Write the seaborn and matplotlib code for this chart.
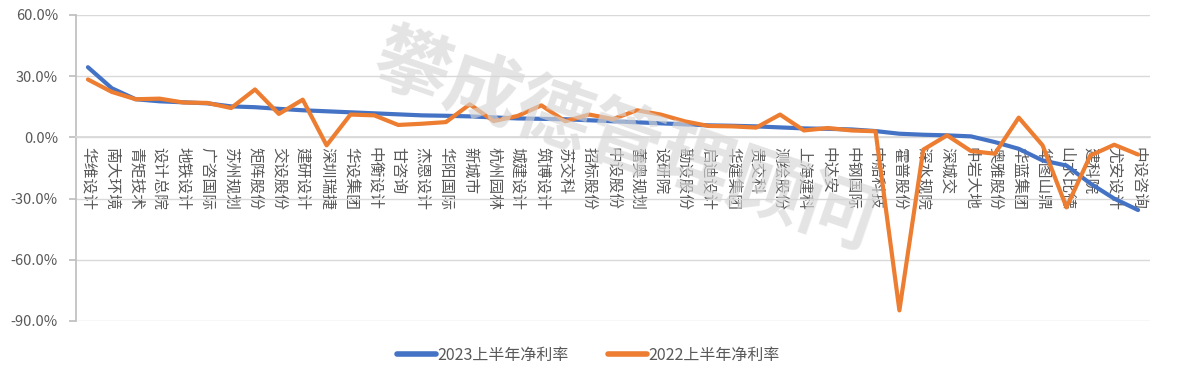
import matplotlib
matplotlib.use("Agg")
import matplotlib.pyplot as plt
import seaborn as sns
import pandas as pd
import numpy as np
from matplotlib.ticker import FuncFormatter, FixedLocator
from matplotlib.lines import Line2D

companies = ["华维设计", "南大环境", "青矩技术", "设计总院", "地铁设计", "广咨国际", "苏州规划",
             "矩阵股份", "交设股份", "建研设计", "深圳瑞捷", "华设集团", "中衡设计", "甘咨询",
             "杰恩设计", "华阳国际", "新城市", "杭州园林", "城建设计", "筑博设计", "苏交科",
             "招标股份", "中设股份", "蕾奥规划", "设研院", "勘设股份", "启迪设计", "华建集团",
             "贵交科", "测绘股份", "上海建科", "中达安", "中钢国际", "中船科技", "霍普股份",
             "深水规院", "深城交", "中岩大地", "奥雅股份", "华蓝集团", "华图山鼎", "山水比德",
             "建科院", "尤安设计", "中设咨询"]

margin_2023 = [34.4, 24.1, 18.7, 17.7, 17.2, 16.7, 15.2, 14.8, 14.0, 13.3, 12.8, 12.3,
               11.8, 11.3, 10.8, 10.6, 10.3, 9.8, 9.3, 9.1, 8.9, 8.4, 7.9, 7.4, 6.9,
               6.4, 5.9, 5.7, 5.4, 4.9, 4.4, 4.2, 3.9, 3.1, 1.8, 1.3, 1.0, 0.5, -2.3,
               -5.6, -11.3, -13.8, -22.6, -30.0, -35.6]

margin_2022 = [28.4, 22.3, 18.7, 19.0, 17.1, 16.9, 14.4, 23.5, 11.5, 18.5, -3.9, 11.2,
               10.8, 6.1, 6.7, 7.5, 16.2, 8.0, 10.5, 15.7, 7.9, 11.2, 9.0, 13.3, 11.2,
               7.9, 5.6, 5.4, 4.8, 11.2, 3.4, 4.6, 3.4, 3.0, -84.8, -6.0, 1.0, -6.7,
               -8.0, 9.7, -3.9, -34.3, -8.9, -3.6, -8.4]

series_names = ["2023上半年净利率", "2022上半年净利率"]
y_ticks = [60, 30, 0, -30, -60, -90]

sns.set_theme(style="white")
plt.rcParams['font.family'] = ['Noto Sans CJK SC', 'DejaVu Sans']

idx = np.arange(len(companies))
df = pd.DataFrame({
    "idx": np.concatenate([idx, idx]),
    "value": margin_2023 + margin_2022,
    "series": [series_names[0]] * len(companies) + [series_names[1]] * len(companies),
})

fig = plt.figure(figsize=(11.77, 3.76), dpi=100)
ax = fig.add_axes([76 / 1177, 1 - 321 / 376, (1150 - 76) / 1177, (321 - 15) / 376])

# watermark
fig.text(0.53, 0.62, "攀成德管理顾问", fontsize=54, fontweight='bold', color='#d6d6d6',
         alpha=0.65, rotation=-19, ha='center', va='center', zorder=0)

sns.lineplot(data=df, x="idx", y="value", hue="series",
             palette={series_names[0]: "#4472C4", series_names[1]: "#ED7D31"},
             linewidth=3, ax=ax, legend=False, zorder=3)

ax.spines['bottom'].set_position(('data', 0))
ax.spines['bottom'].set_color('#d9d9d9')
ax.spines['top'].set_visible(False)
ax.spines['right'].set_visible(False)
ax.spines['left'].set_color('#bfbfbf')

ax.set_xlim(-0.5, len(companies) - 0.5)
ax.set_ylim(-90, 60)
ax.yaxis.set_major_locator(FixedLocator(y_ticks))
ax.yaxis.set_major_formatter(FuncFormatter(lambda v, p: f"{v:.1f}%"))
ax.grid(axis='y', color='#d9d9d9', linewidth=1)
ax.set_axisbelow(True)

ax.set_xticks(idx)
ax.set_xticklabels(companies, rotation=-90, fontsize=11.3, color='#595959',
                   va='top', ha='center')
ax.tick_params(axis='x', length=0, pad=7)
ax.tick_params(axis='y', length=5, color='#bfbfbf', labelsize=10.5, labelcolor='#595959',
               pad=8, direction='out', left=True)
ax.set_xlabel("")
ax.set_ylabel("")

handles = [Line2D([0], [0], color="#4472C4", lw=4),
           Line2D([0], [0], color="#ED7D31", lw=4)]
fig.legend(handles, series_names, loc='center', bbox_to_anchor=(0.50, 1 - 355 / 376),
           ncol=2, frameon=False, fontsize=11.5, labelcolor='#595959',
           handlelength=2.4, handletextpad=0.1, columnspacing=2.5)

fig.savefig("out.png", dpi=100)
